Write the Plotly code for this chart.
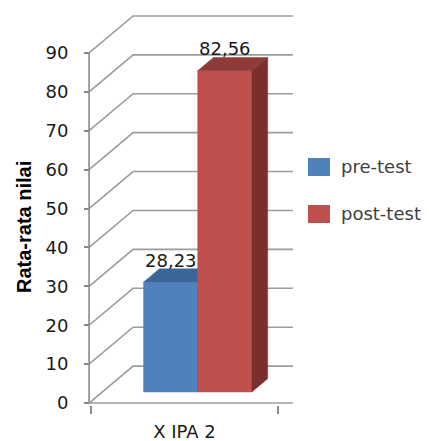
import plotly.graph_objects as go

# ---- data -------------------------------------------------------------
CATEGORIES = ["X IPA 2"]
SERIES = ["pre-test", "post-test"]
PRE_TEST = [28.23]
POST_TEST = [82.56]
Y_TICKS = [0, 10, 20, 30, 40, 50, 60, 70, 80, 90]
Y_TITLE = "Rata-rata nilai"

# ---- styling ----------------------------------------------------------
FRONT = ["#4F81BD", "#C0504D"]
TOP = ["#3C6698", "#8E3B39"]
SIDE = ["#34598A", "#7A2F2D"]
GRID = "#9c9c9c"
FONT = "DejaVu Sans"

W, H = 429, 441
M_L, M_R, M_T, M_B = 85, 132, 14, 36
X_RANGE = [-0.02, 1.02]
Y_RANGE = [-0.5, 100.0]

# oblique projection of the depth axis (in x units / value units)
DEPTH_DX = 0.216
DEPTH_DY = 9.5
BAR_D0, BAR_D1 = 0.30, 0.66          # bar slab position inside the depth
CAT_LO, CAT_HI = 0.01, 0.926         # category band on the front floor edge
GAP = 1.45                           # gap width relative to one bar

plot_w = W - M_L - M_R
plot_h = H - M_T - M_B


def paper_x(px):
    return (px - M_L) / plot_w


def paper_y(py):
    return (H - M_B - py) / plot_h


fig = go.Figure()

# ---- back wall gridlines and floor -----------------------------------
gx, gy = [], []
for v in Y_TICKS:
    gx += [0, DEPTH_DX, 1, None]
    gy += [v, v + DEPTH_DY, v + DEPTH_DY, None]
# front floor edge
gx += [0, 1, None]
gy += [0, 0, None]
fig.add_trace(go.Scatter(x=gx, y=gy, mode="lines",
                         line=dict(color=GRID, width=1.6),
                         hoverinfo="skip", showlegend=False))
# vertical value axis on the front plane
fig.add_trace(go.Scatter(x=[0, 0], y=[Y_TICKS[0], Y_TICKS[-1]], mode="lines",
                         line=dict(color="#8a8a8a", width=1.6),
                         hoverinfo="skip", showlegend=False))

# ---- 3D bars -----------------------------------------------------------
values = [PRE_TEST, POST_TEST]
n = len(SERIES)
bar_w = (CAT_HI - CAT_LO) / (n + GAP)
ddx = (BAR_D1 - BAR_D0) * DEPTH_DX
ddy = (BAR_D1 - BAR_D0) * DEPTH_DY
base = BAR_D0 * DEPTH_DY

annotations = []
for ci, cat in enumerate(CATEGORIES):
    for si, name in enumerate(SERIES):
        v = values[si][ci]
        xl = CAT_LO + GAP * bar_w / 2 + si * bar_w + BAR_D0 * DEPTH_DX
        xr = xl + bar_w
        yb, yt = base, base + v
        faces = [
            ([xl, xr, xr, xl, xl], [yb, yb, yt, yt, yb], FRONT[si]),
            ([xl, xr, xr + ddx, xl + ddx, xl], [yt, yt, yt + ddy, yt + ddy, yt], TOP[si]),
            ([xr, xr + ddx, xr + ddx, xr, xr], [yb, yb + ddy, yt + ddy, yt, yb], SIDE[si]),
        ]
        for fx, fy, col in faces:
            fig.add_trace(go.Scatter(x=fx, y=fy, mode="lines", fill="toself",
                                     fillcolor=col, line=dict(color=col, width=0.5),
                                     hoverinfo="skip", showlegend=False))
        annotations.append(dict(
            x=(xl + xr) / 2, y=yt + ddy, xref="x", yref="y",
            text=f"{v:.2f}".replace(".", ","), showarrow=False,
            yanchor="bottom", xanchor="center", yshift=-4,
            font=dict(family=FONT, size=18, color="#1a1a1a")))

# ---- legend -----------------------------------------------------------
shapes = []
legend_rows = [167, 214]
for si, name in enumerate(SERIES):
    cy = legend_rows[si]
    shapes.append(dict(type="rect", xref="paper", yref="paper",
                       x0=paper_x(308), x1=paper_x(330),
                       y0=paper_y(cy + 9), y1=paper_y(cy - 9),
                       fillcolor=FRONT[si], line=dict(width=0)))
    annotations.append(dict(x=paper_x(339), y=paper_y(cy), xref="paper", yref="paper",
                            text=name, showarrow=False, xanchor="left", yanchor="middle",
                            font=dict(family=FONT, size=18, color="#404040")))

# axis title
annotations.append(dict(x=paper_x(24), y=paper_y(227), xref="paper", yref="paper",
                        text=f"<b>{Y_TITLE}</b>", textangle=-90, showarrow=False,
                        xanchor="center", yanchor="middle",
                        font=dict(family="Liberation Sans", size=20, color="#000000")))

axis_pos = (0 - X_RANGE[0]) / (X_RANGE[1] - X_RANGE[0])

fig.update_layout(
    width=W, height=H,
    margin=dict(l=M_L, r=M_R, t=M_T, b=M_B, pad=0, autoexpand=False),
    paper_bgcolor="white", plot_bgcolor="white",
    showlegend=False,
    annotations=annotations,
    shapes=shapes,
    xaxis=dict(range=X_RANGE, tickvals=[(CAT_LO + CAT_HI) / 2], ticktext=CATEGORIES,
               ticks="", showgrid=False, zeroline=False, showline=False,
               ticklabelstandoff=14, automargin=False,
               tickfont=dict(family=FONT, size=18, color="#1a1a1a")),
    xaxis2=dict(range=X_RANGE, overlaying="x", anchor="y", side="bottom",
                tickvals=[CAT_LO, CAT_HI], ticks="outside", ticklen=8,
                tickwidth=1.6, tickcolor="#8a8a8a", showticklabels=False,
                showgrid=False, zeroline=False, showline=False, automargin=False),
    yaxis=dict(range=Y_RANGE, tickvals=Y_TICKS, ticks="outside", ticklen=5,
               tickwidth=1.6, tickcolor="#8a8a8a", anchor="free", position=axis_pos,
               showgrid=False, zeroline=False, showline=False,
               ticklabelstandoff=12, automargin=False,
               tickfont=dict(family=FONT, size=18, color="#1a1a1a")),
)

# invisible trace so the secondary category axis is drawn
fig.add_trace(go.Scatter(x=[None], y=[None], xaxis="x2", yaxis="y",
                         hoverinfo="skip", showlegend=False))

fig.write_html("out.html")
